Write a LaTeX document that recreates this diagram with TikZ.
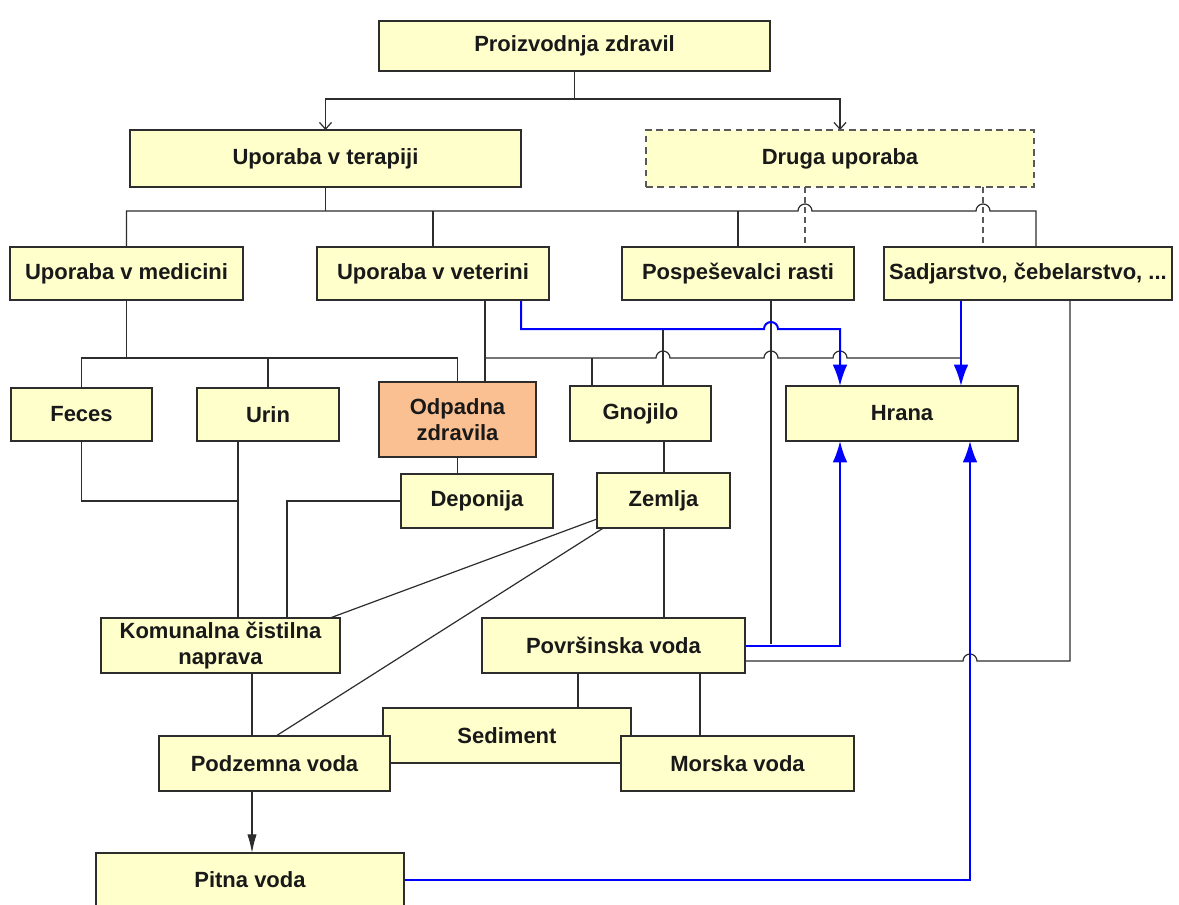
\documentclass[tikz,border=0pt]{standalone}
\usepackage{fontspec}
\setmainfont{Liberation Sans}
\usetikzlibrary{arrows.meta,backgrounds}
\definecolor{boxfill}{RGB}{255,255,204}
\definecolor{salmon}{RGB}{250,192,145}
\definecolor{edge}{RGB}{45,45,45}
\definecolor{bl}{RGB}{0,0,255}
\newcommand\mkbox[7]{\node[box,#6,minimum width={(#4-#2)*0.75pt},minimum height={(#5-#3)*0.75pt}] (#1) at ({(#2+#4)/2},{(#3+#5)/2+1}) {#7};}
\begin{document}
\begin{tikzpicture}[x=0.75pt,y=-0.75pt,
  box/.style={draw=edge, line width=1.1pt, fill=boxfill, inner sep=0pt, outer sep=0pt, align=center,
    font=\fontsize{16.5}{20}\selectfont\bfseries, text=black!90},
  dashbox/.style={draw=black!65, line width=1pt, dash pattern=on 5pt off 3.5pt},
  conn/.style={draw=edge, line width=0.9pt},
  blueconn/.style={draw=bl, line width=1.5pt, -{Latex[length=16pt,width=11pt]}},
  dashconn/.style={draw=black!65, line width=0.9pt, dash pattern=on 4.5pt off 3pt},
  topar/.style={-{Straight Barb[length=5pt,width=9pt]}}]
\useasboundingbox (0,0) rectangle (1179,904);

\mkbox{proiz}{379}{20}{770}{70}{}{Proizvodnja zdravil}
\mkbox{terapiji}{130}{129}{521}{186}{}{Uporaba v terapiji}
\mkbox{druga}{646}{129}{1034}{186}{dashbox}{Druga uporaba}
\mkbox{medicini}{10}{246}{243}{299}{}{Uporaba v medicini}
\mkbox{veterini}{317}{246}{549}{299}{}{Uporaba v veterini}
\mkbox{posp}{622}{246}{854}{299}{}{Pospeševalci rasti}
\mkbox{sadj}{884}{246}{1172}{299}{}{Sadjarstvo, čebelarstvo, ...}
\mkbox{feces}{11}{387}{152}{440}{}{Feces}
\mkbox{urin}{197}{387}{339}{440}{}{Urin}
\mkbox{odpadna}{379}{381}{536}{456}{fill=salmon}{Odpadna\\zdravila}
\mkbox{gnojilo}{570}{385}{711}{440}{}{Gnojilo}
\mkbox{hrana}{786}{385}{1018}{440}{}{Hrana}
\mkbox{deponija}{401}{473}{553}{527}{}{Deponija}
\mkbox{zemlja}{597}{472}{730}{527}{}{Zemlja}
\mkbox{komunalna}{101}{617}{340}{672}{}{Komunalna čistilna\\naprava}
\mkbox{povrs}{482}{617}{745}{672}{}{Površinska voda}
\mkbox{sediment}{383}{707}{631}{762}{}{Sediment}
\mkbox{podzemna}{159}{735}{390}{790}{}{Podzemna voda}
\mkbox{morska}{621}{735}{854}{790}{}{Morska voda}
\mkbox{pitna}{96}{852}{404}{906}{}{Pitna voda}

\begin{scope}[on background layer]
\fill[white] (0,0) rectangle (1179,904);
% top level
\coordinate (pz) at (proiz.south |- 0,99);
\draw[conn,topar] (proiz.south) -- (pz) -| (terapiji.north);
\draw[conn,topar] (pz) -| (druga.north);
% therapy bus
\draw[conn] (terapiji.south) -- (terapiji.south |- 0,211);
\draw[conn] (medicini.north) -- (medicini.north |- 0,211) -- (798,211)
  arc[start angle=180,end angle=0,radius=5.25pt] -- (976,211)
  arc[start angle=180,end angle=0,radius=5.25pt] -- (1036,211) -- (1036,0 |- sadj.north);
\draw[conn] (veterini.north) -- (veterini.north |- 0,211);
\draw[conn] (posp.north) -- (posp.north |- 0,211);
\draw[dashconn] (805,0 |- druga.south) -- (805,0 |- posp.north);
\draw[dashconn] (983,0 |- druga.south) -- (983,0 |- sadj.north);
% medicini bus
\draw[conn] (medicini.south) -- (medicini.south |- 0,358);
\draw[conn] (feces.north) -- (feces.north |- 0,358) -- (odpadna.north |- 0,358) -- (odpadna.north);
\draw[conn] (urin.north) -- (urin.north |- 0,358);
% veterini bus
\draw[conn] (485,0 |- veterini.south) -- (485,0 |- odpadna.north);
\draw[conn] (485,358) -- (656,358)
  arc[start angle=180,end angle=0,radius=5.25pt] -- (764,358)
  arc[start angle=180,end angle=0,radius=5.25pt] -- (833,358)
  arc[start angle=180,end angle=0,radius=5.25pt] -- (961,358);
\draw[conn] (592,358) -- (592,0 |- gnojilo.north);
\draw[conn] (663,329) -- (663,0 |- gnojilo.north);
\draw[conn] (771,0 |- posp.south) -- (771,644);
% middle
\draw[conn] (odpadna.south) -- (odpadna.south |- deponija.north);
\draw[conn] (664,0 |- gnojilo.south) -- (664,0 |- zemlja.north);
\draw[conn] (664,0 |- zemlja.south) -- (664,0 |- povrs.north);
\draw[conn] (feces.south) -- (feces.south |- 0,501) -- (238,501);
\draw[conn] (238,0 |- urin.south) -- (238,0 |- komunalna.north);
\draw[conn] (deponija.west) -- (287,0 |- deponija.west) -- (287,0 |- komunalna.north);
\draw[conn] (597,519) -- (330,0 |- komunalna.north);
\draw[conn] (605,527) -- (276,0 |- podzemna.north);
% lower
\draw[conn] (252,0 |- komunalna.south) -- (252,0 |- podzemna.north);
\draw[conn,-{Latex[length=14pt,width=7pt]}] (252,0 |- podzemna.south) -- (252,0 |- pitna.north);
\draw[conn] (578,0 |- povrs.south) -- (578,0 |- sediment.north);
\draw[conn] (700,0 |- povrs.south) -- (700,0 |- morska.north);
\draw[conn] (podzemna.east) -- (morska.west);
\draw[conn] (povrs.east |- 0,661) -- (963,661)
  arc[start angle=180,end angle=0,radius=5.25pt] -- (1070,661) -- (1070,0 |- sadj.south);
% blue
\draw[blueconn] (521,0 |- veterini.south) -- (521,329) -- (764,329)
  arc[start angle=180,end angle=0,radius=5.25pt] -- (840,329) -- (840,0 |- hrana.north);
\draw[blueconn] (961,0 |- sadj.south) -- (961,0 |- hrana.north);
\draw[blueconn] (povrs.east) -- (povrs.east -| 840,0) -- (840,0 |- hrana.south);
\draw[blueconn] (pitna.east) -- (pitna.east -| 970,0) -- (970,0 |- hrana.south);
\end{scope}
\end{tikzpicture}
\end{document}
